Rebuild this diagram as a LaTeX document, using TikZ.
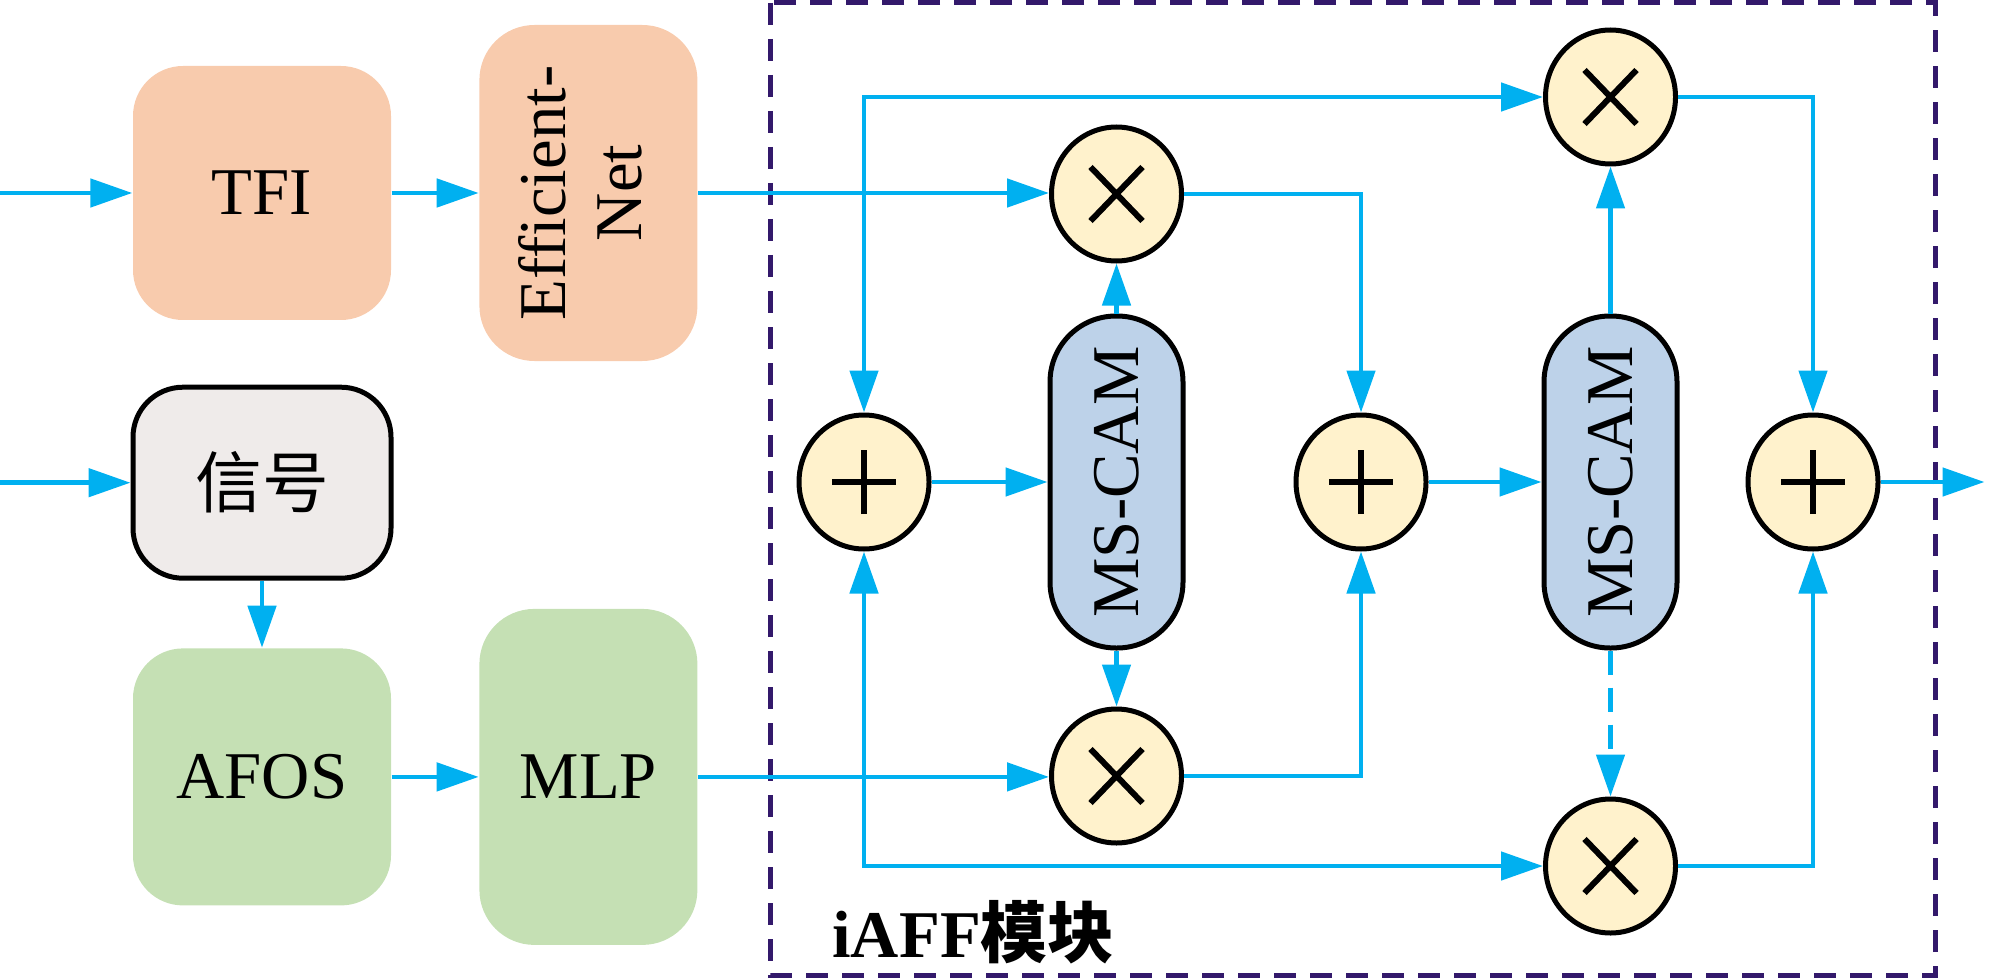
\documentclass[tikz,border=0pt]{standalone}
\usepackage{fontspec}
\setmainfont{Liberation Serif}
\newfontfamily\cjk{Noto Sans CJK SC}
\usepackage{graphicx}
\usetikzlibrary{shapes.geometric,arrows.meta,positioning}
\definecolor{peach}{HTML}{F8CBAD}
\definecolor{leaf}{HTML}{C5E0B4}
\definecolor{paper}{HTML}{EFEBEA}
\definecolor{camblue}{HTML}{BDD2E9}
\definecolor{opfill}{HTML}{FFF2CC}
\definecolor{flow}{HTML}{00B0F0}
\definecolor{iaffpurple}{HTML}{33196B}
\begin{document}
\begin{tikzpicture}[node distance=1cm,
        font=\fontsize{19}{21.6}\selectfont,
        block/.style={rectangle, rounded corners=0.5cm, minimum width=2.58cm, minimum height=2.54cm, align=center, inner sep=0pt},
        tall/.style={block, rounded corners=0.55cm, minimum width=2.18cm, minimum height=3.36cm},
        cam/.style={draw, line width=0.05cm, fill=camblue, rectangle, rounded corners=0.66cm, minimum width=1.33cm, minimum height=3.32cm, inner sep=0pt},
        op/.style={draw, line width=0.05cm, fill=opfill, ellipse, minimum width=1.3cm, minimum height=1.34cm, inner sep=0pt},
        addop/.style={op, path picture={\draw[line width=0.06cm] (path picture bounding box.center) +(-0.32,0) -- +(0.32,0) +(0,-0.32) -- +(0,0.32);}},
        mulop/.style={op, path picture={\draw[line width=0.06cm] (path picture bounding box.center) +(-0.26,-0.27) -- +(0.26,0.27) +(-0.26,0.27) -- +(0.26,-0.27);}},
        flowline/.style={draw=flow, line width=0.048cm, ->},
        weakline/.style={flowline, dash pattern=on 0.24cm off 0.13cm},
        moduleframe/.style={draw=iaffpurple, line width=0.05cm, dash pattern=on 0.22cm off 0.14cm},
        >={Triangle[length=0.42cm, width=0.28cm]}
    ]
        \useasboundingbox (0,0) rectangle (19.89,-9.79);

        \node [block, fill=peach] (tfi) at (2.62,-1.93) {TFI};
        \node [tall, fill=peach, right=0.87cm of tfi] (eff) {\rotatebox{90}{\begin{tabular}{@{}c@{}}Efficient-\\Net\end{tabular}}};
        \node [block, draw, line width=0.05cm, fill=paper, minimum height=1.91cm, below=0.64cm of tfi] (sig) {\cjk 信号};
        \node [block, fill=leaf, minimum height=2.57cm, below=0.67cm of sig] (afos) {AFOS};
        \node [tall, fill=leaf, right=0.87cm of afos] (mlp) {MLP};
        \coordinate [left=1.33cm of tfi] (in1);
        \coordinate [left=1.33cm of sig] (in2);

        \draw [moduleframe] (7.70,-0.03) rectangle (19.35,-9.75);
        \node [anchor=base west, font=\fontsize{19}{21.6}\selectfont\bfseries] (label) at (8.20,-9.57) {iAFF{\cjk 模块}};

        \node [addop] (add1) at (8.64,-4.82) {};
        \node [cam, right=1.16cm of add1] (cam1) {\rotatebox{90}{MS-CAM}};
        \node [mulop, above=0.5cm of cam1] (mul1) {};
        \node [mulop, below=0.56cm of cam1] (mul2) {};
        \node [addop, right=1.08cm of cam1] (add2) {};
        \node [cam, right=1.13cm of add2] (cam2) {\rotatebox{90}{MS-CAM}};
        \node [mulop, above=1.47cm of cam2] (mul3) {};
        \node [mulop, below=1.46cm of cam2] (mul4) {};
        \node [addop, right=0.66cm of cam2] (add3) {};
        \coordinate [right=1.04cm of add3] (out);

        \draw [flowline] (in1) -- (tfi);
        \draw [flowline] (tfi) -- (eff);
        \draw [flowline] (eff.east) -- (eff.east -| mul1.west);
        \draw [flowline] (in2) -- (sig);
        \draw [flowline] (sig) -- (afos);
        \draw [flowline] (afos) -- (mlp);
        \draw [flowline] (mlp.east) -- (mlp.east -| mul2.west);
        \draw [flowline, <->] (add1) |- (mul3);
        \draw [flowline, <->] (add1) |- (mul4);
        \draw [flowline] (add1) -- (cam1);
        \draw [flowline] (cam1) -- (mul1);
        \draw [weakline] (cam1) -- (mul2);
        \draw [flowline] (mul1) -| (add2);
        \draw [flowline] (mul2) -| (add2);
        \draw [flowline] (add2) -- (cam2);
        \draw [flowline] (cam2) -- (mul3);
        \draw [weakline] (cam2) -- (mul4);
        \draw [flowline] (mul3) -| (add3);
        \draw [flowline] (mul4) -| (add3);
        \draw [flowline] (add3) -- (out);

    \end{tikzpicture}
\end{document}
